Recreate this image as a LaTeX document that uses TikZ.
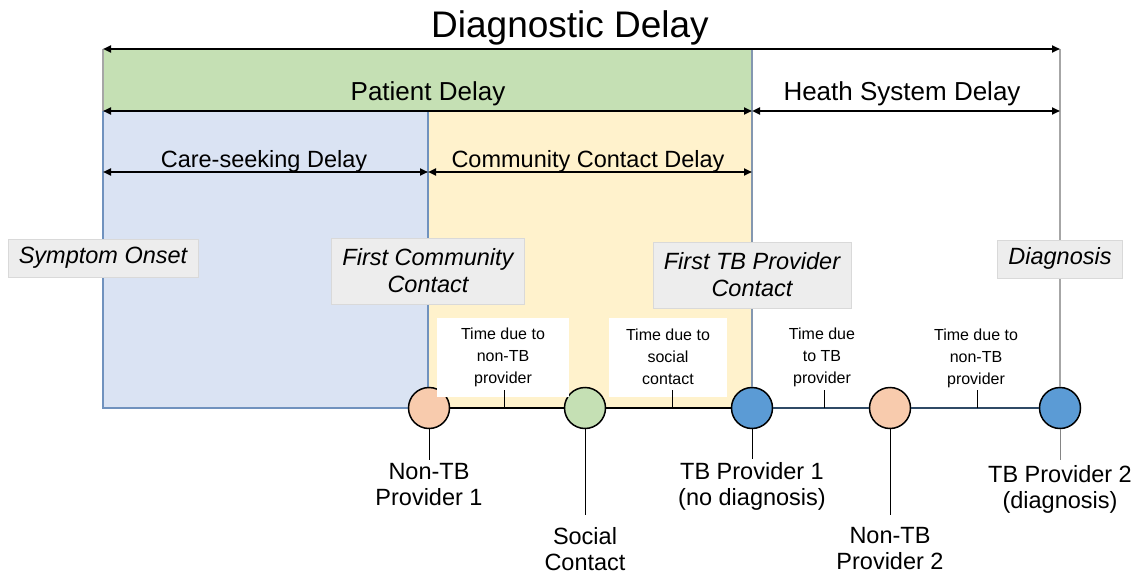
\documentclass[tikz,border=0pt]{standalone}
\usepackage{fontspec}
\setmainfont{Liberation Sans}
\usepackage{xcolor}
\usetikzlibrary{arrows.meta,positioning}

\definecolor{patientgreen}{HTML}{C5E0B4}
\definecolor{careblue}{HTML}{DAE3F3}
\definecolor{communityyellow}{HTML}{FFF2CC}
\definecolor{careedge}{HTML}{7092BE}
\definecolor{tbedge}{HTML}{8497B0}
\definecolor{railgray}{HTML}{A6A6A6}
\definecolor{milestonefill}{HTML}{EDEDED}
\definecolor{milestoneedge}{HTML}{D9D9D9}
\definecolor{nontbfill}{HTML}{F8CBAD}
\definecolor{socialfill}{HTML}{C5E0B4}
\definecolor{tbfill}{HTML}{5B9BD5}
\definecolor{healthline}{HTML}{2F4A66}

\begin{document}
\begin{tikzpicture}[
        x=1pt, y=-1pt,
        titletext/.style={anchor=base, font=\fontsize{37}{40}\selectfont},
        bandtext/.style={anchor=base, font=\fontsize{26}{30}\selectfont},
        subtext/.style={anchor=base, font=\fontsize{23.5}{28}\selectfont},
        span/.style={{Triangle[length=8pt,width=7pt]}-{Triangle[length=8pt,width=7pt]}, line width=2pt},
        milestone/.style={draw=milestoneedge, fill=milestonefill, align=center, inner xsep=11pt,
            minimum height=38pt, font=\fontsize{23.5}{27}\selectfont\itshape},
        note/.style={fill=white, align=center, inner sep=0pt, minimum height=79pt,
            font=\fontsize{16}{22}\selectfont},
        visit/.style={circle, draw, line width=1.5pt, minimum size=41pt, inner sep=0pt},
        who/.style={anchor=north, align=center, inner xsep=0pt, inner ysep=3pt,
            font=\fontsize{23.5}{26.5}\selectfont},
        timeline/.style={line width=1.8pt},
        tickmark/.style={line width=1pt}
    ]
        \useasboundingbox (0,0) rectangle (1137,575);

        % delay boundaries
        \coordinate (onsetT) at (103,49);
        \coordinate (onsetM) at (103,111);
        \coordinate (onsetC) at (103,172);
        \coordinate (fccM) at (428,111);
        \coordinate (fccC) at (428,172);
        \coordinate (fccB) at (428,408);
        \coordinate (ftbT) at (752,49);
        \coordinate (ftbM) at (752,111);
        \coordinate (ftbC) at (752,172);
        \coordinate (ftbB) at (752,408);
        \coordinate (dxT) at (1060,49);
        \coordinate (dxM) at (1060,111);

        \fill[patientgreen] (onsetT) rectangle (ftbM);
        \fill[communityyellow] (fccM) rectangle (ftbB);
        \filldraw[fill=careblue, draw=careedge, line width=1.2pt] (onsetM) rectangle (fccB);

        % care contacts along the way
        \node[visit, fill=nontbfill] (ntbA) at (429,408) {};
        \node[visit, fill=socialfill] (soc) at (585,408) {};
        \node[visit, fill=tbfill] (tbA) at (752,408) {};
        \node[visit, fill=nontbfill] (ntbB) at (890,408) {};
        \node[visit, fill=tbfill] (tbB) at (1060,408) {};

        \draw[railgray, line width=1.2pt] (onsetT) -- (onsetM);
        \draw[tbedge, line width=1.5pt] (ftbT) -- (tbA);
        \draw[railgray, line width=1.5pt] (dxT) -- (tbB);

        \draw[span] (onsetT) -- (dxT);
        \draw[span] (onsetM) -- (ftbM);
        \draw[span] (ftbM) -- (dxM);
        \draw[span] (onsetC) -- (fccC);
        \draw[span] (fccC) -- (ftbC);

        \node[titletext] (diagdelay) at (570,38) {Diagnostic Delay};
        \node[bandtext] (patdelay) at (428,101) {Patient Delay};
        \node[bandtext] (hsdelay) at (902,101) {Heath System Delay};
        \node[subtext] (csdelay) at (264,167) {Care-seeking Delay};
        \node[subtext] (ccdelay) at (588,167) {Community Contact Delay};

        \node[milestone] (onset) at (103,258) {\strut Symptom Onset};
        \node[milestone, minimum height=66pt] (fcc) at (428,271) {First Community\\Contact};
        \node[milestone, minimum height=66pt] (ftb) at (752,275) {First TB Provider\\Contact};
        \node[milestone] (dx) at (1060,259) {\strut Diagnosis};

        \node[note, minimum width=132pt] (noteA) at (503,357) {Time due to\\non-TB\\provider};
        \node[note, minimum width=118pt] (noteB) at (668,357) {Time due to\\social\\contact};
        \node[note] (noteC) at (822,357) {Time due\\to TB\\provider};
        \node[note] (noteD) at (976,358) {Time due to\\non-TB\\provider};

        \draw[timeline] (ntbA) -- (soc);
        \draw[timeline] (soc) -- (tbA);
        \draw[timeline, healthline] (tbA) -- (ntbB);
        \draw[timeline, healthline] (ntbB) -- (tbB);

        \coordinate (tickA) at (504,408);
        \coordinate (tickB) at (672,408);
        \coordinate (tickC) at (824,408);
        \coordinate (tickD) at (977,408);
        \foreach \t in {tickA,tickB,tickC,tickD}
            \draw[tickmark] (\t) -- ++(0,-18);

        \node[who] (ntbAlab) at (429,460) {Non-TB\\Provider 1};
        \node[who, inner ysep=12pt] (soclab) at (585,515) {Social\\Contact};
        \node[who] (tbAlab) at (752,459) {TB Provider 1\\(no diagnosis)};
        \node[who, inner ysep=12pt] (ntbBlab) at (890,515) {Non-TB\\Provider 2};
        \node[who, inner ysep=5pt] (tbBlab) at (1060,460) {TB Provider 2\\(diagnosis)};

        \draw (ntbA.south) -- (ntbAlab.north);
        \draw (soc.south) -- (soclab.north);
        \draw (tbA.south) -- (tbAlab.north);
        \draw (ntbB.south) -- (ntbBlab.north);
        \draw[railgray!80!black] (tbB.south) -- (tbBlab.north);
    \end{tikzpicture}
\end{document}
